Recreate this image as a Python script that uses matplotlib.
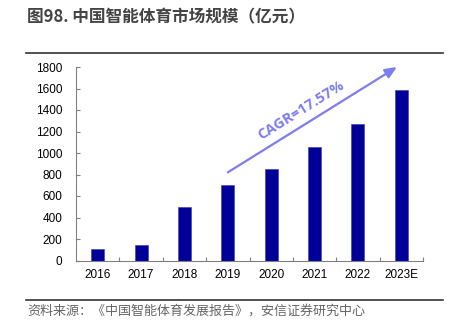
import matplotlib
matplotlib.use("Agg")
import matplotlib.pyplot as plt
from matplotlib.lines import Line2D

plt.rcParams['font.family'] = ['Liberation Sans', 'Noto Sans CJK SC', 'DejaVu Sans']

years = ['2016', '2017', '2018', '2019', '2020', '2021', '2022', '2023E']
values = [105, 142, 497, 702, 848, 1055, 1268, 1582]
yticks = [0, 200, 400, 600, 800, 1000, 1200, 1400, 1600, 1800]
title = '图98. 中国智能体育市场规模（亿元）'
source = '资料来源：《中国智能体育发展报告》，安信证券研究中心'
cagr_label = 'CAGR=17.57%'

W, H = 451, 324
fig = plt.figure(figsize=(W / 100, H / 100), dpi=100)
ax = fig.add_axes([76 / W, 1 - 260.5 / H, (423 - 76) / W, (260.5 - 67) / H])

x = list(range(len(years)))
ax.bar(x, values, width=0.3, color='#000099', edgecolor='#3a3aa8', linewidth=0.4, zorder=2)

ax.set_xlim(-0.5, len(years) - 0.5)
ax.set_ylim(0, 1800)
ax.set_yticks(yticks)
ax.set_yticklabels([str(v) for v in yticks])
ax.set_xticks(x)
ax.set_xticklabels(years)
ax.set_xticks([i + 0.5 for i in x], minor=True)
ax.tick_params(axis='x', which='major', length=0, pad=6, labelsize=8.5, colors='#000000')
ax.tick_params(axis='x', which='minor', length=3, direction='in', color='#808080', width=0.8)
ax.tick_params(axis='y', which='major', length=3, direction='in', color='#808080', width=0.8,
               labelsize=8.5, pad=10)
for s in ['top', 'right']:
    ax.spines[s].set_visible(False)
for s in ['left', 'bottom']:
    ax.spines[s].set_color('#808080')
    ax.spines[s].set_linewidth(0.8)

arrow_color = '#7d7df0'
ax.annotate('', xy=(6.9, 1800), xytext=(3.0, 820),
            arrowprops=dict(arrowstyle='-|>,head_length=0.7,head_width=0.3', color=arrow_color,
                            lw=1.6, shrinkA=0, shrinkB=0),
            annotation_clip=False)
ax.text(4.68, 1395, cagr_label, rotation=32, rotation_mode='anchor', ha='center', va='center',
        color=arrow_color, fontsize=10.5, fontweight='bold', family=['Open Sans', 'DejaVu Sans'])

fig.text(27 / W, 1 - 17 / H, title, ha='left', va='center', fontsize=12, fontweight='bold',
         color='#444444', family=['Noto Sans CJK SC', 'DejaVu Sans'])
fig.add_artist(Line2D([26 / W, 443 / W], [1 - 53 / H, 1 - 53 / H], color='#333333', lw=1.2))
fig.add_artist(Line2D([26 / W, 443 / W], [1 - 300 / H, 1 - 300 / H], color='#333333', lw=1.2))
fig.text(27 / W, 1 - 311 / H, source, ha='left', va='center', fontsize=9.4, style='italic',
         color='#666666', family=['Noto Sans CJK SC', 'DejaVu Sans'])

fig.savefig('out.png', dpi=100)
